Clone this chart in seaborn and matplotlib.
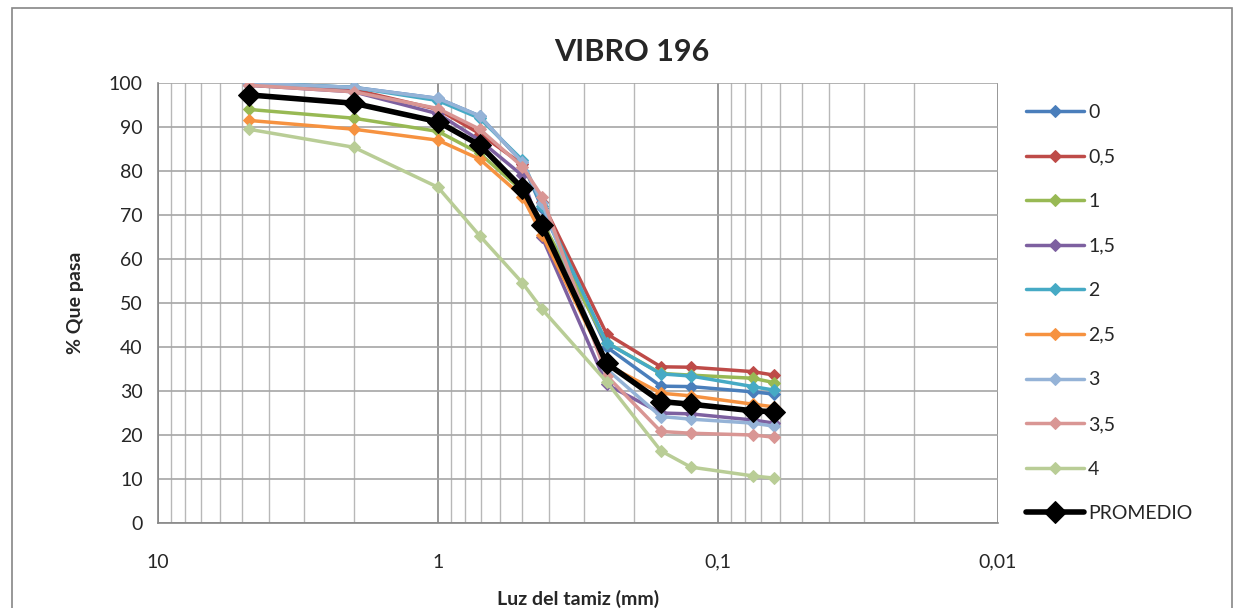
import matplotlib
matplotlib.use("Agg")
import matplotlib.pyplot as plt
import matplotlib.ticker as mticker
from matplotlib.patches import Rectangle
import seaborn as sns

# sieve openings (mm)
tamiz = [4.75, 2, 1, 0.71, 0.5, 0.425, 0.25, 0.16, 0.125, 0.075, 0.063]

s_0 = [100, 99, 96.5, 92.5, 82, 71.5, 40, 31.1, 31.0, 29.8, 29.3]
s_05 = [99.5, 98.5, 94, 88.5, 81.5, 73, 43, 35.5, 35.4, 34.4, 33.6]
s_1 = [94, 92, 89, 84, 75.5, 68.5, 41, 34, 33.6, 32.9, 31.9]
s_15 = [99.5, 98, 93, 87, 79, 65, 31.5, 25, 24.8, 23.4, 22.7]
s_2 = [100, 99, 96, 92, 82.5, 72, 41, 33.9, 33.4, 31.0, 30.2]
s_25 = [91.5, 89.5, 87, 82.7, 74.2, 65.5, 36, 29.5, 28.9, 27.0, 26.4]
s_3 = [100, 99, 96.5, 92.5, 82, 72.7, 35, 24.2, 23.6, 22.7, 22.0]
s_35 = [99.5, 98, 94.2, 89.5, 81, 74.2, 33.5, 20.8, 20.4, 20.0, 19.5]
s_4 = [89.5, 85.4, 76.3, 65.3, 54.6, 48.6, 32.1, 16.4, 12.7, 10.7, 10.2]
promedio = [97.3, 95.4, 91.2, 85.9, 76.1, 67.7, 36.3, 27.6, 27.0, 25.5, 25.3]

labels = ["0", "0,5", "1", "1,5", "2", "2,5", "3", "3,5", "4", "PROMEDIO"]
colors = ["#4A7EBB", "#BE4B48", "#98B954", "#7D60A0", "#46AAC5",
          "#F69240", "#95B3D7", "#D99694", "#B9CD96", "#000000"]
series = [s_0, s_05, s_1, s_15, s_2, s_25, s_3, s_35, s_4, promedio]

sns.set_style("white")
plt.rcParams["font.family"] = ["Lato", "DejaVu Sans"]

fig = plt.figure(figsize=(12.4, 6.08), dpi=100)
ax = fig.add_axes([158 / 1240, 1 - 523 / 608, 840 / 1240, 440 / 608])

for vals, lab, col in zip(series, labels, colors):
    if lab == "PROMEDIO":
        sns.lineplot(x=tamiz, y=vals, ax=ax, color=col, lw=4, marker="D",
                     markersize=11, markeredgecolor=col, label=lab, zorder=5)
    else:
        sns.lineplot(x=tamiz, y=vals, ax=ax, color=col, lw=2.5, marker="D",
                     markersize=6.5, markeredgecolor=col, label=lab)

ax.set_xscale("log")
ax.set_xlim(10, 0.01)
ax.set_ylim(0, 100)
ax.set_yticks(range(0, 101, 10))
ax.xaxis.set_major_locator(mticker.FixedLocator([10, 1, 0.1, 0.01]))
ax.xaxis.set_major_formatter(mticker.FixedFormatter(["10", "1", "0,1", "0,01"]))
ax.xaxis.set_minor_locator(mticker.LogLocator(base=10, subs=range(2, 10)))
ax.xaxis.set_minor_formatter(mticker.NullFormatter())

ax.grid(True, which="major", axis="y", color="#A6A6A6", lw=1.2)
ax.grid(True, which="major", axis="x", color="#858585", lw=1.2)
ax.grid(True, which="minor", axis="x", color="#B8B8B8", lw=1.0)
ax.set_axisbelow(True)

for side in ["top", "right"]:
    ax.spines[side].set_visible(False)
for side in ["left", "bottom"]:
    ax.spines[side].set_color("#868686")
    ax.spines[side].set_linewidth(1.2)

ax.tick_params(axis="y", which="major", length=5, color="#868686", labelsize=14, pad=6)
ax.tick_params(axis="x", which="major", length=5, color="#868686", labelsize=14, pad=17)
ax.tick_params(axis="x", which="minor", length=0)

ax.set_xlabel("Luz del tamiz (mm)", fontsize=14, fontweight="bold", labelpad=14)
ax.set_ylabel("% Que pasa", fontsize=14, fontweight="bold", labelpad=18)

fig.text(632 / 1240, 1 - 52 / 608, "VIBRO 196", ha="center", va="center",
         fontsize=22, fontweight="bold")

ax.legend(loc="upper left", bbox_to_anchor=(1018 / 1240, 1 - 96 / 608),
          bbox_transform=fig.transFigure, frameon=False, fontsize=14,
          labelspacing=1.42, handlelength=3.0, handletextpad=0.2,
          borderaxespad=0)

fig.patches.append(Rectangle((12 / 1240, -0.02), 1220 / 1240, 1.02 - 8 / 608,
                             transform=fig.transFigure, fill=False,
                             edgecolor="#868686", lw=1.2))

fig.savefig("out.png", dpi=100)
